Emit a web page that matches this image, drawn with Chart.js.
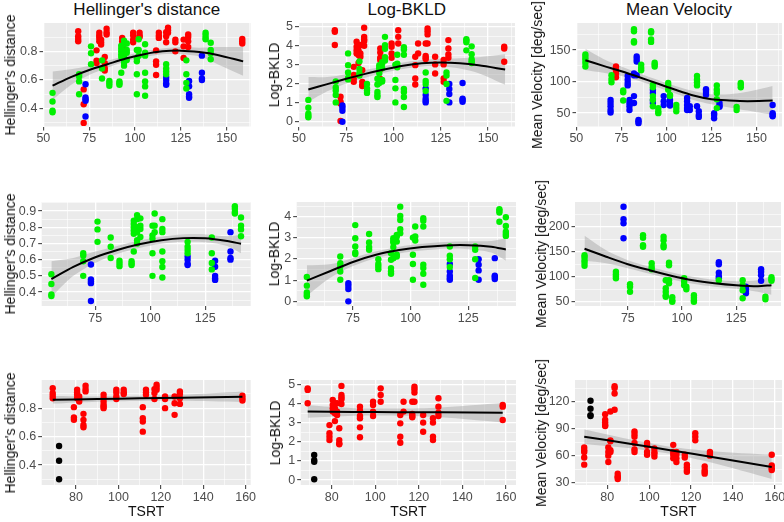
<!DOCTYPE html>
<html>
<head>
<meta charset="utf-8">
<script src="https://cdn.jsdelivr.net/npm/chart.js@4.4.1/dist/chart.umd.min.js"></script>
<style>
html,body{margin:0;padding:0;overflow:hidden;background:#fff;}
#wrap{position:relative;width:784px;height:522px;overflow:hidden;background:#fff;font-family:"Liberation Sans",Arial,sans-serif;}
.ct{position:absolute;font-size:17px;color:#111;white-space:nowrap;transform:translate(-50%,-50%);line-height:20px;}
.yt{position:absolute;font-size:14px;color:#111;white-space:nowrap;transform:translate(-50%,-50%) rotate(-90deg);line-height:16px;}
</style>
</head>
<body>
<div id="wrap"></div>
<script>
// ---- axis ticks ----
const row1XTicks=[50,62.5,75,87.5,100,112.5,125,137.5,150,162.5];
const row1XMajor=[50,75,100,125,150];
const row2XTicks=[62.5,75,87.5,100,112.5,125,137.5];
const row2XMajor=[75,100,125];
const row3XTicks=[70,80,90,100,110,120,130,140,150,160];
const row3XMajor=[80,100,120,140,160];

const hdYTicks=[0.3,0.4,0.5,0.6,0.7,0.8,0.9];
const hdYMajor=[0.4,0.6,0.8];
const hdYTicks2=[0.35,0.4,0.45,0.5,0.55,0.6,0.65,0.7,0.75,0.8,0.85,0.9,0.95];
const hdYMajor2=[0.4,0.5,0.6,0.7,0.8,0.9];
const bkYTicks=[0,0.5,1,1.5,2,2.5,3,3.5,4,4.5,5];
const bkYMajor=[0,1,2,3,4,5];
const bkYTicks2=[0,0.5,1,1.5,2,2.5,3,3.5,4,4.5];
const bkYMajor2=[0,1,2,3,4];
const mvYTicks1=[50,75,100,125,150,175];
const mvYMajor1=[50,100,150];
const mvYTicks2=[50,75,100,125,150,175,200,225];
const mvYMajor2=[50,100,150,200];
const mvYTicks3=[30,45,60,75,90,105,120,135];
const mvYMajor3=[30,60,90,120];

// ---- Hellinger's distance ----
const hdGreenX=[55,69.5,76,82,86,91.5,92.5,94,95.5,101,102,105.5,117,128,138.5,141.3];
const hdGreenY=[[0.51,0.45,0.385,0.375],[0.64,0.625,0.59,0.50],[0.835,0.787,0.71],[0.737,0.68,0.61],[0.593,0.577,0.56],[0.59,0.577,0.567],[0.84,0.82,0.80,0.78,0.76,0.65],[0.875,0.85,0.80,0.77,0.72,0.70],[0.855,0.81,0.79,0.74],[0.81,0.75,0.73,0.64,0.50],[0.885,0.81,0.77],[0.85,0.79,0.77,0.65,0.59,0.555,0.49],[0.71,0.68,0.66,0.64],[0.737,0.64,0.58,0.54],[0.93,0.915,0.895,0.885],[0.86,0.81,0.787,0.745]];
const hdBlueX=[73,117,129.5,136.5];
const hdBlueY=[[0.57,0.478,0.465,0.455,0.345],[0.62,0.60,0.575,0.567],[0.593,0.556,0.50,0.485,0.475],[0.77,0.65,0.61,0.60]];
const hdRedX=[69,79,80.5,81.5,83.5,84.5,93,99,102.5,111.5,113,117,118,122,126.5,129,158.5];
const hdRedY=[[0.94,0.906,0.887,0.87],[0.807,0.734,0.718],[0.93,0.91,0.894,0.87],[0.882,0.864,0.847],[0.76,0.718,0.682,0.666],[0.958,0.934,0.918],[0.894,0.87,0.847,0.824,0.812,0.80],[0.93,0.91,0.882,0.864],[0.93,0.91,0.90],[0.807,0.73,0.706,0.635],[0.93,0.91,0.894],[0.934,0.906,0.864],[0.965,0.948,0.93],[0.882,0.864,0.80],[0.882,0.835,0.753],[0.918,0.90,0.87,0.83],[0.887,0.87,0.854]];
const hdBlackX=[72];
const hdBlackY=[[0.534,0.43,0.30]];

// ---- Log-BKLD ----
const bkGreenX=[55,69.5,76,82,86,91.5,92.5,94,95.5,101,102,105.5,117,128,138.5,141.3];
const bkGreenY=[[1.15,0.74,0.42,0.31,0.24],[2.12,1.8,1.65,1.41,1.02],[3.6,2.98,2.59,2.31,2.23],[3.18,2.78,2.56,2.43],[1.99,1.76,1.65,1.52],[2.27,1.96,1.57,1.41,1.3],[2.98,2.86,2.78,2.56,2.04],[3.14,3.06,2.82,2.2,2.12],[4.47,4.03,3.84,3.4,3.22],[3.01,2.2,1.76,1.02],[3.53,3.06,2.87],[3.92,3.81,3.53,1.73,1.57,1.3,0.78],[2.59,2.15,1.99,1.62],[2.59,2.43,1.99,1.1],[4.35,4.28,4.19,3.76],[3.97,3.56,3.29,3.18,3.09]];
const bkBlueX=[73,117,129.5,136.5];
const bkBlueY=[[0.86,0.74,0.58,0.0],[1.76,1.41,1.21,1.1,1.02],[1.99,1.73,1.46,1.02],[2.04,1.21,1.15,1.05]];
const bkRedX=[69,79,80.5,81.5,82.5,83.5,84.5,93,99,102.5,111.5,113,117,118,122,126.5,129,158.5];
const bkRedY=[[4.82,4.74,4.04],[2.89,2.46,2.28,2.1],[4.21,3.95,3.77,3.6],[4.04,3.77,3.65,3.51,3.1],[4.04,3.6,3.42],[2.72,2.1,1.93,1.88],[4.95,4.47,4.35,4.25,4.0],[3.86,3.65,3.37,3.25,2.77,2.25],[4.12,3.95,3.6,3.37],[4.82,4.47,4.12],[3.42,2.98,2.28,1.96],[4.12,3.6],[4.12,3.47,3.37,3.3],[4.91,4.77,4.6,4.12],[3.42,3.02,2.54],[3.25,3.02,2.28,2.1],[4.3,3.86,3.54,3.37],[3.95,3.86,3.16]];
const bkBlackX=[72];
const bkBlackY=[[1.32,1.05,0.96,0.04]];

// ---- Mean Velocity ----
const mv1GreenX=[55,69.5,76,82,86,91.5,92.5,93.5,95.5,101,102,105.5,117,128,139,141.3];
const mv1GreenY=[[143,139,135,130,124],[110,104,99],[86,83,70],[183,180,164,162],[127,122,118],[180,178,167,163],[95,91,77,71,61],[130,127,124],[58,53,50],[98,94,87],[79,77],[63,58,53],[109,103,99,94],[94,87,82,72,58],[60,55],[98,95,91]];
const mv1BlueX=[69,78.5,79.5,82,83.5,84.5,92.5,98.5,102,111.5,113,117,118,122,126.5,129.5,159];
const mv1BlueY=[[71,66,61,55,51],[109,103,98,94],[71,66,61,55],[113,110,77,66],[140,136,132,110],[39,37,34],[87,82,71,66],[77,69,63],[71,66,62],[74,69,63,58,55],[61,55],[61],[53,47,44],[88,85,82,79],[50,47,42],[66,62,60],[63,50,47,45]];
const mv1RedX=[72];
const mv1RedY=[[124,118,113,107]];
const mv2GreenX=[55,69.5,76,82,86,91.5,92.5,94,95.5,101,102,105.5,117,128,138.5,141.3];
const mv2GreenY=[[143,139,133,128,122],[110,105,101,97],[85,80,70],[183,178,163,160],[127,120,115],[180,173,163,159],[93,77,70,63,60],[128,123,93,87],[59,53,50],[97,90,83],[80,75],[63,58,53,50],[93],[93,83,73,57],[60,55],[99,95,92]];
const mv2BlueX=[73,117,129.5,136.5];
const mv2BlueY=[[240,215,207,177],[129,125,108,101,97],[80,75,70,67],[115,110,103,92]];
const mv3RedX=[69,79,80.5,81.5,83.5,85,93,99,102.5,111.5,113,117,118,122,126.5,129,158.5];
const mv3RedY=[[69,66,64,58,50],[106,100,97,94,93],[69,64,60,53],[109,77,76,66,64],[137,135,129,111],[40,37,36,34],[87,84,81,74,67,64],[74,71,64,61],[68,64,62,59],[72,64,61,57],[64,61,57,53],[61,58],[50,47,44,42],[85,81,77],[48,44,42,40],[64,62,60],[61,49,46,44]];
const mv3BlackX=[72];
const mv3BlackY=[[121,112,105,104]];

// ---- smooth fits ----
const fitX1=[55,65,75,85,95,105,115,125,135,145,159];
const hd1Fit=[0.56,0.62,0.67,0.71,0.75,0.78,0.80,0.805,0.795,0.775,0.73];
const hd1Hi=[0.66,0.675,0.70,0.735,0.77,0.80,0.82,0.83,0.825,0.83,0.83];
const hd1Lo=[0.46,0.565,0.635,0.685,0.73,0.76,0.78,0.78,0.765,0.71,0.63];
const bk1Fit=[1.70,1.98,2.26,2.52,2.75,2.95,3.08,3.12,3.08,2.97,2.75];
const bk1Hi=[2.35,2.35,2.5,2.72,2.92,3.12,3.25,3.32,3.35,3.4,3.55];
const bk1Lo=[1.05,1.6,2.02,2.32,2.58,2.78,2.91,2.92,2.8,2.56,1.95];
const mv1Fit=[134,125,116.5,107,97,87,78,72,70,69,70];
const mv1Hi=[152,136,124,113,103,93,85,80,80,84,93];
const mv1Lo=[118,114,109,101,91,81,71,64,59,54,47];
const fitX2=[55,65,75,85,95,105,115,125,135,141.3];
const hd2Fit=[0.48,0.555,0.615,0.66,0.695,0.72,0.733,0.732,0.715,0.698];
const hd2Hi=[0.59,0.61,0.65,0.685,0.718,0.742,0.755,0.755,0.745,0.755];
const hd2Lo=[0.37,0.50,0.58,0.635,0.672,0.698,0.71,0.708,0.685,0.64];
const bk2Fit=[0.98,1.42,1.86,2.2,2.42,2.56,2.64,2.65,2.58,2.45];
const bk2Hi=[1.7,1.75,2.05,2.36,2.58,2.72,2.8,2.84,2.85,2.98];
const bk2Lo=[0.26,1.1,1.67,2.04,2.26,2.4,2.48,2.46,2.3,1.92];
const mv2Fit=[156,140,125,113,102,93,87,83,81,83];
const mv2Hi=[182,153,133,120,109,100,94,91,93,101];
const mv2Lo=[132,127,117,106,95,86,80,76,70,64];
const fitX3=[69,90,110,130,158.5];
const hd3Fit=[0.859,0.864,0.869,0.874,0.881];
const hd3Hi=[0.885,0.882,0.887,0.895,0.918];
const hd3Lo=[0.833,0.846,0.851,0.853,0.844];
const bk3Fit=[3.60,3.58,3.57,3.56,3.54];
const bk3Hi=[3.93,3.78,3.76,3.82,4.05];
const bk3Lo=[3.27,3.38,3.38,3.30,3.03];
const mv3Fit=[81,73.5,66,58.5,47.5];
const mv3Hi=[89,78.5,70,65,61];
const mv3Lo=[73,68.5,62,52,34];

const RED='#FF0000',GREEN='#00F000',BLUE='#0000FF',BLACK='#000000';
const FONT='"Liberation Sans", Arial, sans-serif';
Chart.defaults.font.family=FONT;

function pts(xs,ys){
  let out=[];
  for(let i=0;i<xs.length;i++){
    for(let v of ys[i]) out.push({x:xs[i],y:v});
  }
  return out;
}
function line(xs,ys){
  return xs.map((x,i)=>({x:x,y:ys[i]}));
}

const panelBg={
  id:'panelBg',
  beforeDraw(chart){
    const a=chart.chartArea, ctx=chart.ctx;
    ctx.save();
    ctx.fillStyle='#EBEBEB';
    ctx.fillRect(a.left,a.top,a.right-a.left,a.bottom-a.top);
    ctx.restore();
  }
};

const wrap=document.getElementById('wrap');

const panels=[
  {box:[43,23,250.5,126.5],xr:[49.8,163],yr:[0.275,0.998],xt:row1XTicks,xm:row1XMajor,yt:hdYTicks,ym:hdYMajor,dp:1,
   yTitle:"Hellinger's distance",tx:10,
   series:[[GREEN,pts(hdGreenX,hdGreenY)],[BLUE,pts(hdBlueX,hdBlueY)],[RED,pts(hdRedX,hdRedY).concat(pts(hdBlackX,hdBlackY))]],
   fit:[fitX1,hd1Fit,hd1Lo,hd1Hi]},
  {box:[298.5,23,515,126.5],xr:[49.8,164.2],yr:[-0.25,5.2],xt:row1XTicks,xm:row1XMajor,yt:bkYTicks,ym:bkYMajor,dp:0,
   yTitle:"Log-BKLD",tx:273.5,
   series:[[GREEN,pts(bkGreenX,bkGreenY)],[BLUE,pts(bkBlueX,bkBlueY)],[RED,pts(bkRedX,bkRedY).concat(pts(bkBlackX,bkBlackY))]],
   fit:[fitX1,bk1Fit,bk1Lo,bk1Hi]},
  {box:[576,23,782,126.5],xr:[49.8,164.2],yr:[28.8,193],xt:row1XTicks,xm:row1XMajor,yt:mvYTicks1,ym:mvYMajor1,dp:0,
   yTitle:"Mean Velocity [deg/sec]",tx:537,
   series:[[GREEN,pts(mv1GreenX,mv1GreenY)],[BLUE,pts(mv1BlueX,mv1BlueY)],[RED,pts(mv1RedX,mv1RedY)]],
   fit:[fitX1,mv1Fit,mv1Lo,mv1Hi]},
  {box:[41.7,202,250.7,306],xr:[50.6,145.7],yr:[0.314,0.956],xt:row2XTicks,xm:row2XMajor,yt:hdYTicks2,ym:hdYMajor2,dp:1,
   yTitle:"Hellinger's distance",tx:10,
   series:[[GREEN,pts(hdGreenX,hdGreenY)],[BLUE,pts(hdBlueX,hdBlueY)]],
   fit:[fitX2,hd2Fit,hd2Lo,hd2Hi]},
  {box:[296.7,202,516,306],xr:[50.6,145.7],yr:[-0.22,4.69],xt:row2XTicks,xm:row2XMajor,yt:bkYTicks2,ym:bkYMajor2,dp:0,
   yTitle:"Log-BKLD",tx:273.5,
   series:[[GREEN,pts(bkGreenX,bkGreenY)],[BLUE,pts(bkBlueX,bkBlueY)]],
   fit:[fitX2,bk2Fit,bk2Lo,bk2Hi]},
  {box:[575,202,781,306],xr:[50.6,145.7],yr:[41.4,249.4],xt:row2XTicks,xm:row2XMajor,yt:mvYTicks2,ym:mvYMajor2,dp:0,
   yTitle:"Mean Velocity [deg/sec]",tx:540.5,
   series:[[GREEN,pts(mv2GreenX,mv2GreenY)],[BLUE,pts(mv2BlueX,mv2BlueY)]],
   fit:[fitX2,mv2Fit,mv2Lo,mv2Hi]},
  {box:[41.7,380,250.7,485],xr:[63.8,162.4],yr:[0.26,0.998],xt:row3XTicks,xm:row3XMajor,yt:hdYTicks,ym:hdYMajor,dp:1,
   yTitle:"Hellinger's distance",tx:10,xTitle:'TSRT',
   series:[[RED,pts(hdRedX,hdRedY)],[BLACK,pts(hdBlackX,hdBlackY)]],
   fit:[fitX3,hd3Fit,hd3Lo,hd3Hi]},
  {box:[300.7,380,516,485],xr:[65.8,164.6],yr:[-0.26,5.26],xt:row3XTicks,xm:row3XMajor,yt:bkYTicks,ym:bkYMajor,dp:0,
   yTitle:"Log-BKLD",tx:275,xTitle:'TSRT',
   series:[[RED,pts(bkRedX,bkRedY)],[BLACK,pts(bkBlackX,bkBlackY)]],
   fit:[fitX3,bk3Fit,bk3Lo,bk3Hi]},
  {box:[575,380,782,485],xr:[64.6,163.4],yr:[27.4,144],xt:row3XTicks,xm:row3XMajor,yt:mvYTicks3,ym:mvYMajor3,dp:0,
   yTitle:"Mean Velocity [deg/sec]",tx:540.5,xTitle:'TSRT',
   series:[[RED,pts(mv3RedX,mv3RedY)],[BLACK,pts(mv3BlackX,mv3BlackY)]],
   fit:[fitX3,mv3Fit,mv3Lo,mv3Hi]}
];

const colTitles=[["Hellinger's distance",146.8],["Log-BKLD",406.7],["Mean Velocity",679]];
for(const [txt,cx] of colTitles){
  const d=document.createElement('div');
  d.className='ct';d.textContent=txt;
  d.style.left=cx+'px';d.style.top='10px';
  wrap.appendChild(d);
}

function isMaj(list,v){return list.some(m=>Math.abs(m-v)<1e-9);}

function build(p){
  const [l,t,r,b]=p.box;
  const yw=42,padTop=12,padRight=14;
  const xh=p.xTitle?(512-b+8.4+1):24;
  const cl=Math.floor(l-yw),ct=Math.floor(t-padTop);
  const cw=Math.ceil(r+padRight)-cl,ch=Math.ceil(b+xh)-ct;
  const cv=document.createElement('canvas');
  cv.width=cw;cv.height=ch;
  cv.style.cssText='position:absolute;left:'+cl+'px;top:'+ct+'px;width:'+cw+'px;height:'+ch+'px;';
  wrap.appendChild(cv);

  const yt=document.createElement('div');
  yt.className='yt';yt.textContent=p.yTitle;
  yt.style.left=p.tx+'px';yt.style.top=((t+b)/2)+'px';
  wrap.appendChild(yt);

  const [fx,fy,flo,fhi]=p.fit;
  let datasets=[
    {data:line(fx,fhi),showLine:true,borderColor:'rgba(0,0,0,0)',borderWidth:0,pointRadius:0,fill:false,tension:0.3,order:10},
    {data:line(fx,flo),showLine:true,borderColor:'rgba(0,0,0,0)',borderWidth:0,pointRadius:0,fill:'-1',backgroundColor:'rgba(153,153,153,0.4)',tension:0.3,order:10}
  ];
  for(const [col,d] of p.series){
    datasets.push({data:d,showLine:false,pointRadius:3.2,pointBackgroundColor:col,pointBorderColor:col,pointBorderWidth:0,order:5});
  }
  datasets.push({data:line(fx,fy),showLine:true,borderColor:'#000',borderWidth:2,pointRadius:0,fill:false,tension:0.3,order:1});

  const tickFont={size:12.5,family:FONT};
  new Chart(cv,{
    type:'line',
    data:{datasets:datasets},
    options:{
      responsive:false,animation:false,devicePixelRatio:1,
      events:[],
      layout:{padding:{left:(l-yw)-cl,top:t-ct,right:cl+cw-r,bottom:ct+ch-(b+xh)}},
      plugins:{legend:{display:false},tooltip:{enabled:false}},
      scales:{
        x:{
          type:'linear',min:p.xr[0],max:p.xr[1],
          afterFit:s=>{s.height=xh;},
          afterBuildTicks:s=>{s.ticks=p.xt.map(v=>({value:v}));},
          ticks:{autoSkip:false,maxRotation:0,minRotation:0,padding:1,color:'#4D4D4D',font:tickFont,
            callback:v=>isMaj(p.xm,v)?String(v):''},
          grid:{color:'#FFFFFF',lineWidth:c=>isMaj(p.xm,c.tick.value)?1.3:0.6,drawTicks:true,tickLength:4,tickWidth:1,
            tickColor:c=>isMaj(p.xm,c.tick.value)?'#333333':'rgba(0,0,0,0)'},
          border:{display:false},
          title:{display:!!p.xTitle,text:p.xTitle||'',color:'#111',font:{size:14,family:FONT},padding:{top:0,bottom:1}}
        },
        y:{
          type:'linear',min:p.yr[0],max:p.yr[1],
          afterFit:s=>{s.width=yw;},
          afterBuildTicks:s=>{s.ticks=p.yt.map(v=>({value:v}));},
          ticks:{autoSkip:false,padding:2,color:'#4D4D4D',font:tickFont,
            callback:v=>isMaj(p.ym,v)?v.toFixed(p.dp):''},
          grid:{color:'#FFFFFF',lineWidth:c=>isMaj(p.ym,c.tick.value)?1.3:0.6,drawTicks:true,tickLength:3.5,tickWidth:1,
            tickColor:c=>isMaj(p.ym,c.tick.value)?'#333333':'rgba(0,0,0,0)'},
          border:{display:false},
          title:{display:false}
        }
      }
    },
    plugins:[panelBg]
  });
}

panels.forEach(build);
</script>
</body>
</html>
